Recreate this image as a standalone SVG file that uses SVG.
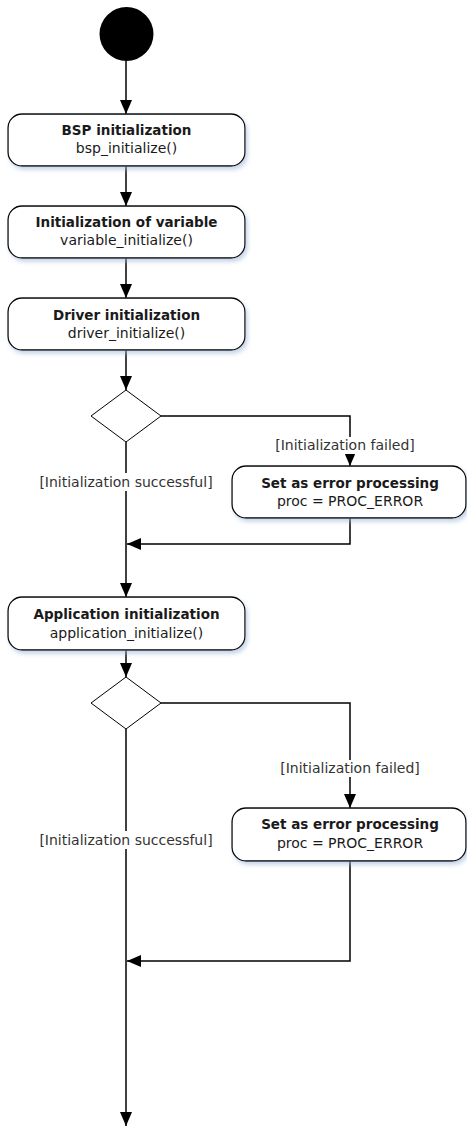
<svg xmlns="http://www.w3.org/2000/svg" width="467" height="1126" viewBox="0 0 467 1126">
<defs>
<marker id="arr" markerUnits="userSpaceOnUse" markerWidth="14" markerHeight="12" refX="14" refY="6" orient="auto">
<path d="M0,0 L14,6 L0,12 z" fill="#000"/>
</marker>
<filter id="sh" x="-10%" y="-20%" width="125%" height="150%">
<feDropShadow dx="2" dy="3" stdDeviation="2" flood-color="#9fb8d8" flood-opacity="0.6"/>
</filter>
</defs>
<style>
.box{fill:#fff;stroke:#000;stroke-width:1.3;filter:url(#sh)}
.dia{fill:#fff;stroke:#000;stroke-width:1}
.ln{fill:none;stroke:#000;stroke-width:1.5}
.t{font-family:"DejaVu Sans",Verdana,sans-serif;fill:#1a1a1a;text-anchor:middle}
.b{font-weight:bold;font-size:13.5px}
.n{font-size:14px}
.lbl{font-family:"DejaVu Sans",Verdana,sans-serif;font-size:14px;fill:#333;text-anchor:middle}
</style>
<rect width="467" height="1126" fill="#fff"/>
<g id="connectors">
<path class="ln" d="M126,61 V114" marker-end="url(#arr)"/>
<path class="ln" d="M126,166 V206" marker-end="url(#arr)"/>
<path class="ln" d="M126,258 V298" marker-end="url(#arr)"/>
<path class="ln" d="M126,350 V390" marker-end="url(#arr)"/>
<path class="ln" d="M161,416 H350 V466" marker-end="url(#arr)"/>
<path class="ln" d="M350,518 V544 H127" marker-end="url(#arr)"/>
<path class="ln" d="M126,442 V597" marker-end="url(#arr)"/>
<path class="ln" d="M126,650 V677" marker-end="url(#arr)"/>
<path class="ln" d="M161,703 H350 V808" marker-end="url(#arr)"/>
<path class="ln" d="M350,861 V961 H127" marker-end="url(#arr)"/>
<path class="ln" d="M126,729 V1126" marker-end="url(#arr)"/>
</g>
<g id="labels">
<rect x="272" y="437" width="146" height="17" fill="#fff"/>
<text class="lbl" x="345" y="450">[Initialization failed]</text>
<rect x="36" y="473" width="180" height="18" fill="#fff"/>
<text class="lbl" x="126" y="487">[Initialization successful]</text>
<rect x="277" y="760" width="146" height="17" fill="#fff"/>
<text class="lbl" x="350" y="773">[Initialization failed]</text>
<rect x="36" y="831" width="180" height="18" fill="#fff"/>
<text class="lbl" x="126" y="845">[Initialization successful]</text>
</g>
<g id="start">
<circle cx="126.5" cy="34" r="27" fill="#000"/>
</g>
<g id="bsp">
<rect class="box" x="8" y="114" width="237" height="52" rx="14"/>
<text class="t b" x="126.5" y="135">BSP initialization</text>
<text class="t n" x="126.5" y="153">bsp_initialize()</text>
</g>
<g id="variable">
<rect class="box" x="8" y="206" width="237" height="52" rx="14"/>
<text class="t b" x="126.5" y="227">Initialization of variable</text>
<text class="t n" x="126.5" y="245">variable_initialize()</text>
</g>
<g id="driver">
<rect class="box" x="8" y="298" width="237" height="52" rx="14"/>
<text class="t b" x="126.5" y="320">Driver initialization</text>
<text class="t n" x="126.5" y="338">driver_initialize()</text>
</g>
<g id="decision1">
<polygon class="dia" points="126,390 161,416 126,442 91,416"/>
</g>
<g id="error1">
<rect class="box" x="232" y="466" width="234" height="52" rx="14"/>
<text class="t b" x="350" y="488">Set as error processing</text>
<text class="t n" x="350" y="506">proc = PROC_ERROR</text>
</g>
<g id="application">
<rect class="box" x="8" y="597" width="237" height="53" rx="14"/>
<text class="t b" x="126.5" y="619">Application initialization</text>
<text class="t n" x="126.5" y="638">application_initialize()</text>
</g>
<g id="decision2">
<polygon class="dia" points="126,677 161,703 126,729 91,703"/>
</g>
<g id="error2">
<rect class="box" x="232" y="808" width="234" height="53" rx="14"/>
<text class="t b" x="350" y="829">Set as error processing</text>
<text class="t n" x="350" y="848">proc = PROC_ERROR</text>
</g>
</svg>
